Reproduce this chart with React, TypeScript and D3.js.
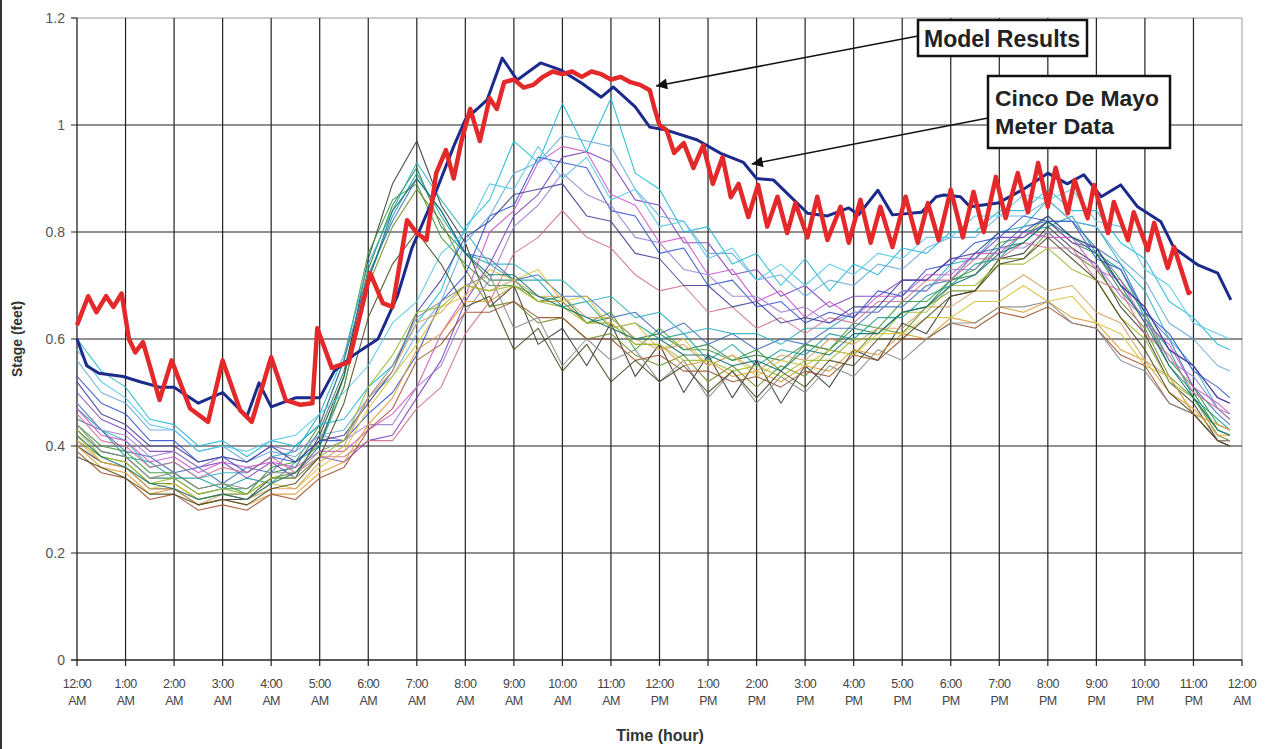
import React from "react";
import * as d3 from "d3";

// ---------------- DATA ----------------
const X_TICK_LABELS = [
  ["12:00", "AM"], ["1:00", "AM"], ["2:00", "AM"], ["3:00", "AM"], ["4:00", "AM"], ["5:00", "AM"],
  ["6:00", "AM"], ["7:00", "AM"], ["8:00", "AM"], ["9:00", "AM"], ["10:00", "AM"], ["11:00", "AM"],
  ["12:00", "PM"], ["1:00", "PM"], ["2:00", "PM"], ["3:00", "PM"], ["4:00", "PM"], ["5:00", "PM"],
  ["6:00", "PM"], ["7:00", "PM"], ["8:00", "PM"], ["9:00", "PM"], ["10:00", "PM"], ["11:00", "PM"],
  ["12:00", "AM"],
];
const Y_TICKS = [0, 0.2, 0.4, 0.6, 0.8, 1, 1.2];

// meter sample times (hours): every half hour, plus final reading
const HOURS = d3.range(0, 23.51, 0.5).concat([23.75]);

// Cinco De Mayo meter data (thin lines)
const m01 = [0.43,0.39,0.38,0.34,0.34,0.31,0.32,0.32,0.35,0.36,0.43,0.54,
  0.73,0.85,0.92,0.81,0.76,0.71,0.71,0.67,0.68,0.63,0.64,0.60,
  0.61,0.58,0.59,0.56,0.57,0.56,0.59,0.58,0.62,0.61,0.65,0.66,
  0.71,0.72,0.77,0.78,0.82,0.78,0.76,0.69,0.64,0.55,0.50,0.43,0.42];
const m02 = [0.47,0.43,0.38,0.37,0.34,0.34,0.32,0.34,0.33,0.37,0.40,0.51,
  0.71,0.83,0.91,0.83,0.76,0.74,0.71,0.71,0.66,0.67,0.62,0.63,
  0.60,0.61,0.56,0.59,0.55,0.58,0.57,0.61,0.60,0.64,0.64,0.68,
  0.70,0.74,0.75,0.80,0.81,0.83,0.76,0.73,0.64,0.58,0.49,0.45,0.43];
const m03 = [0.40,0.37,0.36,0.32,0.32,0.29,0.30,0.30,0.34,0.34,0.42,0.53,
  0.75,0.89,0.97,0.85,0.78,0.66,0.70,0.59,0.62,0.55,0.63,0.53,
  0.59,0.50,0.57,0.49,0.56,0.48,0.55,0.51,0.58,0.56,0.63,0.61,
  0.68,0.69,0.75,0.76,0.81,0.77,0.74,0.66,0.61,0.52,0.48,0.41,0.40];
const m04 = [0.44,0.40,0.39,0.35,0.35,0.32,0.33,0.31,0.36,0.37,0.44,0.56,
  0.76,0.86,0.89,0.79,0.74,0.70,0.70,0.68,0.67,0.63,0.65,0.58,
  0.62,0.58,0.58,0.56,0.58,0.54,0.59,0.58,0.63,0.62,0.67,0.67,
  0.71,0.73,0.78,0.79,0.83,0.79,0.77,0.71,0.65,0.56,0.51,0.44,0.43];
const m05 = [0.45,0.43,0.39,0.38,0.35,0.36,0.33,0.36,0.35,0.40,0.44,0.56,
  0.72,0.82,0.90,0.84,0.76,0.75,0.71,0.72,0.68,0.68,0.64,0.65,
  0.61,0.63,0.59,0.61,0.58,0.60,0.59,0.62,0.62,0.66,0.66,0.70,
  0.71,0.76,0.77,0.81,0.82,0.82,0.77,0.74,0.65,0.60,0.51,0.46,0.44];
const m06 = [0.48,0.43,0.41,0.36,0.37,0.34,0.35,0.35,0.38,0.39,0.46,0.57,
  0.74,0.84,0.93,0.86,0.80,0.74,0.74,0.71,0.71,0.67,0.68,0.64,
  0.65,0.61,0.62,0.61,0.61,0.59,0.62,0.62,0.65,0.65,0.69,0.69,
  0.74,0.75,0.80,0.81,0.86,0.82,0.81,0.74,0.69,0.60,0.55,0.47,0.45];
const m07 = [0.41,0.38,0.37,0.33,0.33,0.30,0.31,0.31,0.34,0.35,0.41,0.51,
  0.70,0.81,0.88,0.82,0.73,0.66,0.67,0.63,0.64,0.60,0.61,0.57,
  0.55,0.57,0.52,0.55,0.51,0.55,0.53,0.58,0.57,0.62,0.61,0.66,
  0.69,0.69,0.75,0.75,0.80,0.76,0.73,0.67,0.62,0.53,0.49,0.42,0.41];
const m08 = [0.50,0.45,0.43,0.39,0.39,0.36,0.37,0.34,0.37,0.34,0.38,0.37,
  0.41,0.42,0.49,0.56,0.67,0.74,0.83,0.87,0.94,0.95,0.93,0.86,
  0.85,0.78,0.78,0.72,0.73,0.68,0.70,0.66,0.68,0.68,0.71,0.71,
  0.75,0.75,0.79,0.79,0.82,0.78,0.77,0.70,0.66,0.58,0.55,0.49,0.48];
const m09 = [0.47,0.42,0.41,0.37,0.38,0.35,0.37,0.36,0.37,0.36,0.39,0.39,
  0.43,0.46,0.51,0.61,0.68,0.80,0.84,0.93,0.96,0.95,0.87,0.85,
  0.78,0.79,0.72,0.73,0.67,0.69,0.64,0.67,0.64,0.68,0.68,0.72,
  0.72,0.76,0.76,0.80,0.79,0.79,0.73,0.71,0.63,0.59,0.51,0.48,0.46];
const m10 = [0.60,0.54,0.51,0.45,0.44,0.40,0.41,0.38,0.41,0.40,0.44,0.45,
  0.51,0.55,0.63,0.69,0.81,0.86,0.97,0.93,1.04,0.95,1.05,0.91,
  0.88,0.80,0.81,0.74,0.76,0.70,0.75,0.69,0.74,0.72,0.77,0.76,
  0.80,0.80,0.84,0.84,0.88,0.84,0.84,0.78,0.75,0.67,0.64,0.59,0.58];
const m11 = [0.53,0.48,0.46,0.41,0.41,0.37,0.38,0.35,0.38,0.37,0.41,0.41,
  0.46,0.50,0.57,0.67,0.72,0.83,0.85,0.94,0.93,0.92,0.84,0.83,
  0.76,0.77,0.70,0.71,0.66,0.67,0.63,0.65,0.64,0.69,0.68,0.73,
  0.74,0.78,0.79,0.83,0.82,0.82,0.75,0.73,0.65,0.61,0.54,0.51,0.49];
const m12 = [0.48,0.43,0.42,0.38,0.39,0.36,0.38,0.37,0.40,0.39,0.42,0.41,
  0.44,0.44,0.51,0.55,0.65,0.71,0.81,0.85,0.91,0.87,0.85,0.79,
  0.78,0.73,0.72,0.68,0.68,0.65,0.66,0.63,0.65,0.65,0.69,0.69,
  0.73,0.73,0.77,0.77,0.80,0.76,0.74,0.68,0.64,0.56,0.53,0.47,0.46];
const m13 = [0.56,0.50,0.48,0.43,0.43,0.39,0.40,0.37,0.39,0.38,0.42,0.43,
  0.49,0.53,0.61,0.67,0.78,0.83,0.91,0.93,0.98,0.97,0.96,0.88,
  0.83,0.82,0.76,0.76,0.71,0.72,0.68,0.71,0.70,0.74,0.73,0.77,
  0.79,0.79,0.83,0.83,0.86,0.82,0.81,0.75,0.71,0.63,0.60,0.55,0.54];
const m14 = [0.46,0.41,0.40,0.36,0.37,0.34,0.36,0.35,0.38,0.35,0.38,0.38,
  0.41,0.41,0.47,0.51,0.61,0.67,0.76,0.79,0.84,0.79,0.77,0.72,
  0.69,0.70,0.65,0.66,0.62,0.64,0.61,0.64,0.63,0.67,0.67,0.71,
  0.71,0.75,0.75,0.78,0.77,0.77,0.71,0.69,0.61,0.57,0.50,0.47,0.45];
const m15 = [0.52,0.46,0.44,0.40,0.40,0.37,0.38,0.37,0.40,0.37,0.41,0.42,
  0.48,0.54,0.65,0.71,0.79,0.82,0.87,0.88,0.89,0.83,0.82,0.76,
  0.75,0.70,0.70,0.66,0.67,0.63,0.64,0.63,0.66,0.66,0.71,0.71,
  0.75,0.76,0.80,0.80,0.83,0.79,0.77,0.70,0.66,0.58,0.55,0.49,0.48];
const m16 = [0.40,0.36,0.35,0.31,0.32,0.29,0.30,0.29,0.31,0.31,0.35,0.37,
  0.44,0.49,0.58,0.61,0.67,0.67,0.70,0.67,0.67,0.63,0.63,0.59,
  0.59,0.55,0.56,0.53,0.54,0.52,0.55,0.54,0.58,0.57,0.61,0.60,
  0.64,0.63,0.66,0.65,0.67,0.64,0.63,0.58,0.56,0.50,0.47,0.42,0.42];
const m17 = [0.42,0.37,0.36,0.32,0.33,0.30,0.31,0.30,0.33,0.32,0.36,0.39,
  0.47,0.53,0.59,0.66,0.68,0.73,0.71,0.73,0.67,0.68,0.62,0.63,
  0.58,0.60,0.55,0.57,0.53,0.56,0.55,0.58,0.57,0.61,0.61,0.64,
  0.64,0.67,0.67,0.70,0.67,0.68,0.63,0.61,0.55,0.53,0.46,0.44,0.43];
const m18 = [0.39,0.35,0.34,0.30,0.31,0.28,0.29,0.28,0.31,0.30,0.34,0.36,
  0.43,0.47,0.56,0.59,0.65,0.65,0.67,0.64,0.64,0.60,0.60,0.56,
  0.57,0.54,0.54,0.52,0.53,0.51,0.54,0.53,0.57,0.56,0.60,0.60,
  0.63,0.62,0.65,0.64,0.66,0.63,0.62,0.57,0.55,0.48,0.46,0.41,0.41];
const m19 = [0.44,0.39,0.38,0.34,0.35,0.32,0.33,0.32,0.35,0.35,0.39,0.41,
  0.49,0.55,0.64,0.67,0.70,0.72,0.62,0.64,0.55,0.60,0.56,0.58,
  0.52,0.56,0.49,0.54,0.48,0.53,0.50,0.55,0.53,0.58,0.56,0.60,
  0.63,0.63,0.66,0.66,0.67,0.63,0.62,0.56,0.54,0.48,0.46,0.41,0.41];
const m20 = [0.41,0.37,0.36,0.32,0.32,0.29,0.31,0.30,0.32,0.32,0.37,0.40,
  0.49,0.54,0.63,0.65,0.70,0.69,0.71,0.68,0.68,0.64,0.64,0.60,
  0.58,0.59,0.55,0.57,0.54,0.57,0.56,0.60,0.59,0.62,0.62,0.66,
  0.66,0.69,0.69,0.72,0.69,0.70,0.65,0.63,0.56,0.53,0.46,0.44,0.43];
const m21 = [0.43,0.38,0.37,0.33,0.34,0.31,0.32,0.31,0.34,0.34,0.38,0.41,
  0.51,0.57,0.65,0.66,0.70,0.69,0.70,0.67,0.66,0.63,0.63,0.59,
  0.59,0.56,0.56,0.54,0.55,0.53,0.56,0.56,0.60,0.60,0.65,0.65,
  0.70,0.70,0.74,0.74,0.77,0.73,0.71,0.64,0.60,0.52,0.49,0.43,0.42];
const m22 = [0.42,0.38,0.36,0.33,0.32,0.30,0.31,0.30,0.33,0.35,0.40,0.53,
  0.71,0.84,0.90,0.84,0.76,0.72,0.72,0.68,0.66,0.64,0.62,0.60,
  0.60,0.57,0.57,0.55,0.56,0.54,0.58,0.57,0.61,0.61,0.65,0.66,
  0.70,0.72,0.76,0.78,0.82,0.79,0.76,0.70,0.63,0.55,0.49,0.43,0.42];
const m23 = [0.58,0.52,0.49,0.44,0.43,0.39,0.40,0.39,0.41,0.42,0.46,0.50,
  0.55,0.63,0.67,0.76,0.80,0.89,0.88,0.96,0.90,0.94,0.86,0.88,
  0.81,0.82,0.75,0.77,0.71,0.74,0.70,0.74,0.72,0.76,0.75,0.79,
  0.79,0.83,0.83,0.87,0.86,0.88,0.82,0.81,0.73,0.70,0.63,0.61,0.60];
const m24 = [0.38,0.36,0.34,0.31,0.31,0.29,0.30,0.29,0.32,0.33,0.38,0.48,
  0.64,0.74,0.80,0.74,0.66,0.68,0.58,0.62,0.54,0.59,0.52,0.56,
  0.52,0.55,0.50,0.54,0.49,0.54,0.51,0.56,0.55,0.60,0.60,0.64,
  0.68,0.69,0.74,0.75,0.79,0.75,0.71,0.64,0.58,0.50,0.46,0.41,0.40];

const METER_SERIES = [m01, m02, m03, m04, m05, m06, m07, m08, m09, m10, m11, m12,
  m13, m14, m15, m16, m17, m18, m19, m20, m21, m22, m23, m24];
const METER_COLORS = ["#2f7f4f", "#1f9f9f", "#3a3a3a", "#3c9c3c", "#3f6fbf", "#2fb0c0",
  "#6b8e23", "#7f3fbf", "#cc55cc", "#22b8d8", "#3355cc", "#9b7fd0", "#66aadd", "#d07090",
  "#40409a", "#e09a30", "#d8c23a", "#a0522d", "#8a8a8a", "#d4a060", "#99bb33", "#0f6f6f",
  "#55c8e8", "#4a4a20"];

// Model Results (red) : [hour, stage]
const MODEL_RESULTS = [
  [0,0.626],[0.23,0.68],[0.4,0.65],[0.6,0.68],[0.75,0.66],[0.92,0.685],[1.07,0.60],[1.2,0.575],
  [1.36,0.594],[1.7,0.486],[1.95,0.56],[2.33,0.47],[2.7,0.445],[3.0,0.56],[3.36,0.467],[3.6,0.445],
  [4.0,0.566],[4.3,0.486],[4.6,0.477],[4.85,0.48],[4.95,0.62],[5.25,0.546],[5.6,0.557],[6.04,0.723],
  [6.3,0.667],[6.5,0.66],[6.8,0.822],[7.0,0.798],[7.2,0.785],[7.4,0.91],[7.6,0.953],[7.76,0.90],
  [7.92,0.97],[8.1,1.03],[8.3,0.97],[8.5,1.05],[8.65,1.03],[8.8,1.08],[9.0,1.085],[9.2,1.07],
  [9.4,1.075],[9.6,1.09],[9.8,1.10],[10.0,1.095],[10.2,1.10],[10.4,1.09],[10.6,1.10],[10.8,1.095],
  [11.0,1.085],[11.2,1.09],[11.4,1.08],[11.6,1.075],[11.8,1.065],[11.9,1.03],[12.0,1.0],[12.15,0.99],
  [12.3,0.948],[12.5,0.966],[12.7,0.92],[12.9,0.962],[13.1,0.89],[13.3,0.94],[13.47,0.865],[13.63,0.89],
  [13.83,0.828],[14.03,0.888],[14.22,0.81],[14.43,0.866],[14.63,0.798],[14.8,0.854],[15.05,0.79],
  [15.25,0.866],[15.46,0.785],[15.73,0.847],[15.9,0.78],[16.14,0.86],[16.35,0.78],[16.55,0.847],
  [16.8,0.772],[17.07,0.866],[17.32,0.78],[17.53,0.854],[17.75,0.785],[18.0,0.879],[18.25,0.79],
  [18.47,0.875],[18.68,0.80],[18.93,0.903],[19.13,0.826],[19.38,0.91],[19.59,0.837],[19.8,0.929],
  [20.0,0.847],[20.16,0.92],[20.41,0.835],[20.55,0.897],[20.82,0.826],[20.95,0.888],[21.24,0.798],
  [21.36,0.856],[21.65,0.785],[21.77,0.837],[22.06,0.766],[22.19,0.817],[22.47,0.733],[22.6,0.772],
  [22.9,0.686],[22.95,0.69],
];

// dark blue thick series : [hour, stage]
const BLUE_SERIES = [
  [0,0.6],[0.2,0.55],[0.45,0.536],[0.95,0.53],[1.3,0.52],[1.7,0.51],[2.0,0.51],[2.5,0.48],[3.0,0.50],
  [3.5,0.455],[3.75,0.518],[4.0,0.473],[4.5,0.49],[5.0,0.49],[5.3,0.54],[5.7,0.57],[6.2,0.60],
  [6.6,0.68],[6.9,0.77],[7.35,0.865],[7.76,0.96],[8.0,1.01],[8.45,1.047],[8.76,1.125],[9.07,1.084],
  [9.55,1.116],[9.96,1.103],[10.4,1.078],[10.8,1.052],[11.05,1.071],[11.5,1.034],[11.8,0.996],
  [12.16,0.99],[12.78,0.972],[13.26,0.947],[13.73,0.93],[14.0,0.9],[14.35,0.897],[15.05,0.835],
  [15.46,0.83],[15.9,0.845],[16.1,0.832],[16.5,0.878],[16.8,0.832],[17.4,0.837],[17.7,0.866],
  [17.86,0.869],[18.2,0.866],[18.4,0.847],[18.97,0.854],[19.5,0.88],[20.0,0.91],[20.4,0.89],
  [20.74,0.907],[21.1,0.866],[21.5,0.888],[21.85,0.847],[22.33,0.819],[22.6,0.77],[23.1,0.738],
  [23.5,0.723],[23.77,0.673],
];

// annotation arrow targets [hour, stage]
const MODEL_ARROW_TARGET = [11.93, 1.073];
const METER_ARROW_TARGET = [13.9, 0.927];

// ---------------- CHART ----------------
const W = 1266;
const H = 749;
const FONT = "'Liberation Sans', Arial, sans-serif";

export default function App() {
  const x = d3.scaleLinear().domain([0, 24]).range([77, 1242]);
  const y = d3.scaleLinear().domain([0, 1.2]).range([660, 18]);

  const meterLine = d3.line<number>()
    .x((_, i) => x(HOURS[i]))
    .y((d) => y(d));
  const pairLine = d3.line<number[]>()
    .x((d) => x(d[0]))
    .y((d) => y(d[1]));

  const hourTicks = d3.range(0, 25);

  const box1 = { x: 918, y: 20, w: 169, h: 36 };
  const box2 = { x: 988, y: 76, w: 182, h: 72 };

  return (
    <svg width={W} height={H} style={{ position: "absolute", left: 0, top: 0, background: "#fff" }}
      fontFamily={FONT}>
      <defs>
        <marker id="ah" viewBox="0 0 10 10" refX="10" refY="5" markerUnits="userSpaceOnUse"
          markerWidth="16" markerHeight="11" orient="auto">
          <path d="M0,0 L10,5 L0,10 z" fill="#111" />
        </marker>
      </defs>
      <rect x={0} y={0} width={W} height={H} fill="#fff" />
      <line x1={1} x2={1} y1={0} y2={H} stroke="#333" strokeWidth={2} />

      {/* plot frame (light) */}
      <line x1={x(0)} x2={x(24)} y1={y(1.2)} y2={y(1.2)} stroke="#bbb" strokeWidth={1.5} />
      <line x1={x(24)} x2={x(24)} y1={y(1.2)} y2={y(0)} stroke="#bbb" strokeWidth={1.5} />

      {/* grid */}
      {hourTicks.slice(1, 24).map((h) => (
        <line key={"vg" + h} x1={x(h)} x2={x(h)} y1={y(1.2)} y2={y(0) + 6} stroke="#222" strokeWidth={1.2} />
      ))}
      {Y_TICKS.slice(1, 6).map((v) => (
        <line key={"hg" + v} x1={x(0) - 6} x2={x(24)} y1={y(v)} y2={y(v)} stroke="#222" strokeWidth={1.2} />
      ))}
      <line x1={x(0)} x2={x(0)} y1={y(1.2)} y2={y(0) + 6} stroke="#222" strokeWidth={1.3} />
      <line x1={x(0) - 6} x2={x(24)} y1={y(0)} y2={y(0)} stroke="#222" strokeWidth={1.3} />
      <line x1={x(0) - 6} x2={x(0)} y1={y(1.2)} y2={y(1.2)} stroke="#222" strokeWidth={1.2} />
      <line x1={x(24)} x2={x(24)} y1={y(0)} y2={y(0) + 6} stroke="#222" strokeWidth={1.2} />

      {/* y tick labels */}
      {Y_TICKS.map((v) => (
        <text key={"yl" + v} x={x(0) - 12} y={y(v)} dy="0.35em" textAnchor="end" fontSize={14} fill="#555">
          {String(v)}
        </text>
      ))}

      {/* x tick labels */}
      {X_TICK_LABELS.map((lab, i) => (
        <g key={"xl" + i}>
          <text x={x(i)} y={y(0) + 28} textAnchor="middle" fontSize={12.5} fill="#444" letterSpacing={-0.6}>
            {lab[0]}
          </text>
          <text x={x(i)} y={y(0) + 45} textAnchor="middle" fontSize={12.5} fill="#444" letterSpacing={-0.6}>
            {lab[1]}
          </text>
        </g>
      ))}

      {/* axis titles */}
      <text x={660} y={741} textAnchor="middle" fontSize={16} fontWeight="bold" fill="#333">
        Time (hour)
      </text>
      <text transform={`translate(22, ${y(0.6)}) rotate(-90)`} textAnchor="middle" fontSize={14}
        fontWeight="bold" fill="#333">
        Stage (feet)
      </text>

      {/* meter data */}
      <g fill="none" strokeWidth={1.1} strokeOpacity={0.9} strokeLinejoin="round">
        {METER_SERIES.map((s, i) => (
          <path key={"m" + i} d={meterLine(s) || ""} stroke={METER_COLORS[i]} />
        ))}
      </g>

      {/* thick series */}
      <path d={pairLine(BLUE_SERIES as number[][]) || ""} fill="none" stroke="#1c2a8c" strokeWidth={3}
        strokeLinejoin="round" />
      <path d={pairLine(MODEL_RESULTS as number[][]) || ""} fill="none" stroke="#e4292b" strokeWidth={4.5}
        strokeLinejoin="round" />

      {/* annotations */}
      <line x1={box1.x} y1={box1.y + 16} x2={x(MODEL_ARROW_TARGET[0])} y2={y(MODEL_ARROW_TARGET[1])}
        stroke="#111" strokeWidth={1.5} markerEnd="url(#ah)" />
      <line x1={box2.x} y1={box2.y + 42} x2={x(METER_ARROW_TARGET[0])} y2={y(METER_ARROW_TARGET[1])}
        stroke="#111" strokeWidth={1.5} markerEnd="url(#ah)" />

      <rect x={box1.x} y={box1.y} width={box1.w} height={box1.h} fill="#fff" stroke="#111" strokeWidth={2.5} />
      <text x={box1.x + 6} y={box1.y + 27} fontSize={23} fontWeight="bold" fill="#222"
        textLength={156} lengthAdjust="spacingAndGlyphs">
        Model Results
      </text>
      <rect x={box2.x} y={box2.y} width={box2.w} height={box2.h} fill="#fff" stroke="#111" strokeWidth={2.5} />
      <text x={box2.x + 7} y={box2.y + 30} fontSize={22} fontWeight="bold" fill="#222"
        textLength={164} lengthAdjust="spacingAndGlyphs">
        Cinco De Mayo
      </text>
      <text x={box2.x + 7} y={box2.y + 58} fontSize={22} fontWeight="bold" fill="#222"
        textLength={119} lengthAdjust="spacingAndGlyphs">
        Meter Data
      </text>
    </svg>
  );
}
